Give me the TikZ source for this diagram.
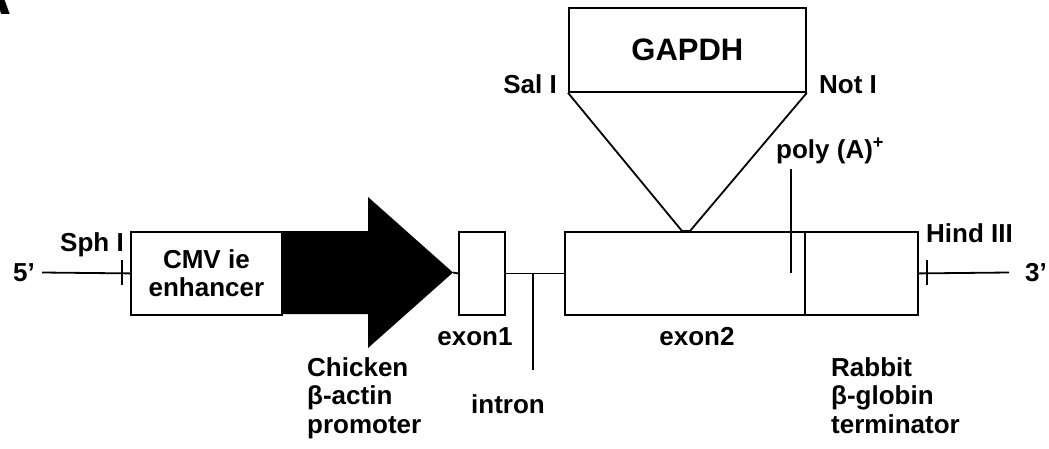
\documentclass[tikz,border=0pt]{standalone}
\usepackage{fontspec}
\setmainfont{Liberation Sans}
\usepackage{tikz}
\tikzstyle{genebox} = [draw=black, line width=1.8pt, rectangle, inner sep=0pt,
    anchor=north west, font=\bfseries\fontsize{26}{28}\selectfont]
\tikzstyle{sitetext} = [inner sep=0pt, font=\bfseries\fontsize{26}{28.5}\selectfont]
\tikzstyle{dnaline} = [line width=1.8pt]

\begin{document}
\begin{tikzpicture}[x=1pt,y=-1pt]
                \useasboundingbox (0,0) rectangle (1049,448);
                \node[anchor=base east, inner sep=0pt, font=\bfseries\fontsize{60}{60}\selectfont] (panel) at (12,14) {A};
                \node[genebox, minimum width=151pt, minimum height=83pt, align=center] (cmv) at (130,231) {CMV ie\\enhancer};
                \fill (281,231) -- (368,231) -- (368,197) -- (453,272.5) coordinate (ptip)
                    -- (368,348) -- (368,314) -- (281,314) -- cycle;
                \node[genebox, minimum width=46pt, minimum height=83pt] (exon1) at (458,231) {};
                \node[genebox, minimum width=240pt, minimum height=83pt] (exon2) at (564,231) {};
                \node[genebox, minimum width=113pt, minimum height=83pt] (term) at (804,231) {};
                \node[genebox, minimum width=237pt, minimum height=84pt,
                    font=\bfseries\fontsize{31}{31}\selectfont] (gapdh) at (568,7) {GAPDH};
                \coordinate (fiveend) at (42,272.5);
                \coordinate (threeend) at (1009,272.5);
                \coordinate (sphtop) at (122,260);
                \coordinate (sphbot) at (122,285);
                \coordinate (hindtop) at (927,260);
                \coordinate (hindbot) at (927,285);
                \coordinate (intronpt) at (533,272.5);
                \coordinate (intronend) at (533,370);
                \coordinate (polytop) at (791,169);
                \coordinate (polybot) at (791,272.5);
                \coordinate (insleft) at (682,231);
                \coordinate (insright) at (690,231);
                \draw[dnaline] (fiveend) -- (cmv.west);
                \draw[dnaline] (ptip) -- (exon1.west);
                \draw[dnaline] (exon1.east) -- (exon2.west);
                \draw[dnaline] (term.east) -- (threeend);
                \draw[dnaline] (sphtop) -- (sphbot);
                \draw[dnaline] (hindtop) -- (hindbot);
                \draw[dnaline] (intronpt) -- (intronend);
                \draw[dnaline] (polytop) -- (polybot);
                \draw[dnaline] (gapdh.south west) -- (insleft) -- (insright) -- (gapdh.south east);
                \node[sitetext, anchor=east] (five) at (35,273) {5’};
                \node[sitetext, anchor=base east] (sph) at (124,251) {Sph I};
                \node[sitetext, anchor=base east] (sal) at (557,93) {Sal I};
                \node[sitetext, anchor=base west] (not) at (819,93) {Not I};
                \node[sitetext, anchor=base west] (polya) at (776,158) {poly (A)\textsuperscript{+}};
                \node[sitetext, anchor=base west] (hind) at (926,242) {Hind III};
                \node[sitetext, anchor=west] (three) at (1025,273) {3’};
                \node[sitetext, anchor=base] (exonone) at (475,345) {exon1};
                \node[sitetext, anchor=base] (exontwo) at (697,345) {exon2};
                \node[sitetext, anchor=base west] (intron) at (471,413) {intron};
                \node[sitetext, anchor=north west, align=left] (chicken) at (307,357) {Chicken\\β-actin\\promoter};
                \node[sitetext, anchor=north west, align=left] (rabbit) at (831,357) {Rabbit\\β-globin\\terminator};
            \end{tikzpicture}
\end{document}
